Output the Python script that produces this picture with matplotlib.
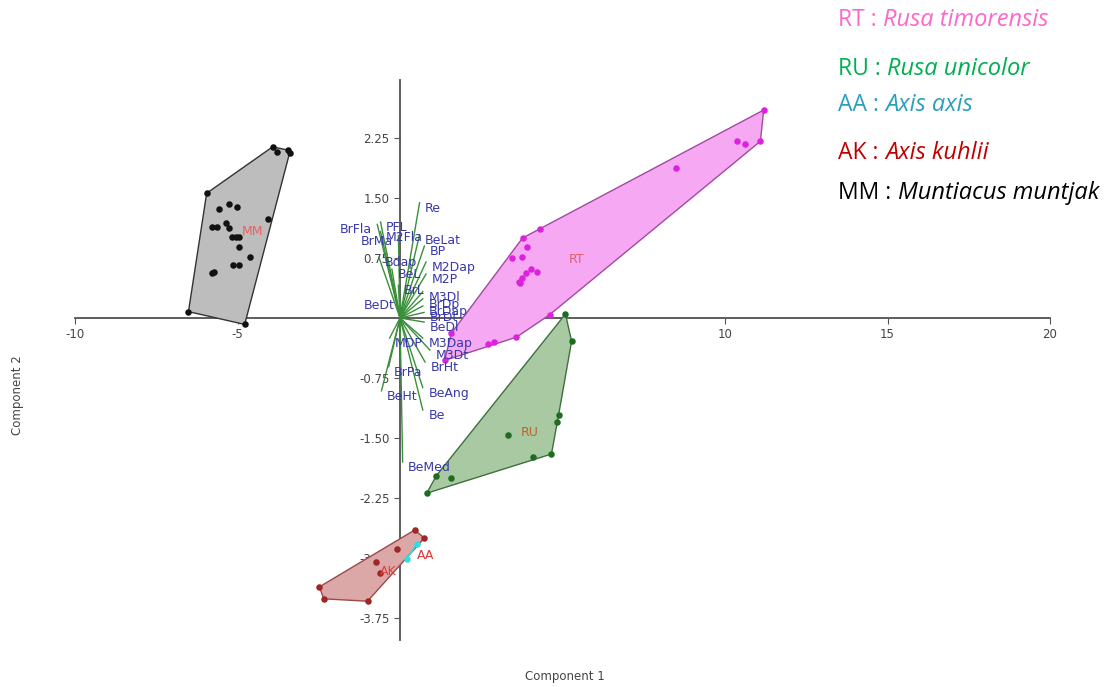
import numpy as np
import matplotlib.pyplot as plt
from matplotlib.ticker import FormatStrFormatter

plt.rcParams['axes.unicode_minus'] = False

# PCA scores per group (component 1, component 2)
mm_x = [-3.92, -3.80, -3.46, -3.40, -5.95, -5.58, -5.25, -5.03, -4.05, -5.80, -5.62, -5.34,
        -5.25, -5.18, -5.06, -4.97, -4.97, -4.63, -5.15, -4.97, -5.80, -5.71, -6.51, -4.78]
mm_y = [2.14, 2.08, 2.10, 2.06, 1.56, 1.36, 1.43, 1.39, 1.24, 1.14, 1.14, 1.19,
        1.13, 1.01, 1.01, 1.01, 0.89, 0.76, 0.66, 0.66, 0.56, 0.58, 0.08, -0.08]

rt_x = [11.19, 10.38, 10.63, 11.09, 8.48, 4.32, 3.77, 3.92, 3.46, 3.74, 4.02,
        4.23, 3.89, 3.74, 3.65, 3.68, 4.60, 3.58, 2.88, 2.72, 1.58, 1.37]
rt_y = [2.60, 2.21, 2.18, 2.21, 1.88, 1.11, 1.00, 0.89, 0.75, 0.76, 0.61,
        0.57, 0.56, 0.50, 0.45, 0.44, 0.04, -0.24, -0.30, -0.33, -0.19, -0.53]

ru_x = [5.09, 5.28, 4.88, 4.82, 4.66, 4.08, 3.31, 1.58, 1.12, 0.82]
ru_y = [0.05, -0.29, -1.21, -1.30, -1.70, -1.74, -1.46, -2.00, -1.97, -2.19]

ak_x = [0.45, 0.75, -0.08, -0.75, -0.63, -2.48, -2.35, -1.00]
ak_y = [-2.65, -2.75, -2.89, -3.05, -3.19, -3.36, -3.51, -3.54]

aa_x = [0.51, 0.20]
aa_y = [-2.83, -3.01]

# loadings (biplot vectors)
var_names = ['Re', 'BrFla', 'PFL', 'BrMa', 'M2Fla', 'BeLat', 'BP', 'Bdap', 'BeL', 'M2Dap',
             'M2P', 'BrL', 'BeDt', 'M3Dl', 'BrDp', 'BrDap', 'BrDt', 'BeDl', 'MDP', 'M3Dap',
             'M3Dt', 'BrHt', 'BrPa', 'BeHt', 'BeAng', 'Be', 'BeMed']
load_x = [0.60, -0.70, -0.60, -0.05, -0.60, 0.60, 0.75, -0.65, -0.25, 0.80,
          0.80, -0.05, 0.00, 0.70, 0.70, 0.70, 0.74, 0.74, -0.32, 0.70,
          0.92, 0.77, -0.35, -0.57, 0.70, 0.70, 0.08]
load_y = [1.44, 1.17, 1.20, 1.03, 1.08, 1.04, 0.90, 0.76, 0.61, 0.70,
          0.55, 0.41, 0.22, 0.33, 0.24, 0.15, 0.07, -0.05, -0.25, -0.25,
          -0.40, -0.55, -0.61, -0.91, -0.87, -1.15, -1.80]
label_right = ['BrFla', 'BrMa', 'BeDt']

groups = [
    ('MM', mm_x, mm_y, '#111111', '#bdbdbd', '#333333'),
    ('RT', rt_x, rt_y, '#dd22dd', '#f7a8f3', '#a04aa0'),
    ('RU', ru_x, ru_y, '#1f6b1f', '#a9c9a2', '#3f6f3f'),
    ('AK', ak_x, ak_y, '#a02525', '#dba7a7', '#9a4a4a'),
    ('AA', aa_x, aa_y, '#33dddd', '#33dddd', '#33dddd'),
]
group_label_col = {'MM': '#e86060', 'RT': '#e06070', 'RU': '#c0602a', 'AK': '#e04040', 'AA': '#d83838'}

legend_items = [
    ('RT :', 'Rusa timorensis', '#ff66cc'),
    ('RU :', 'Rusa unicolor', '#00b050'),
    ('AA :', 'Axis axis', '#2b9fbf'),
    ('AK :', 'Axis kuhlii', '#c00000'),
    ('MM :', 'Muntiacus muntjak', '#000000'),
]


def hull(xs, ys):
    pts = sorted(set(zip(xs, ys)))
    if len(pts) < 3:
        return pts

    def cross(o, a, b):
        return (a[0] - o[0]) * (b[1] - o[1]) - (a[1] - o[1]) * (b[0] - o[0])
    lower, upper = [], []
    for p in pts:
        while len(lower) >= 2 and cross(lower[-2], lower[-1], p) <= 0:
            lower.pop()
        lower.append(p)
    for p in reversed(pts):
        while len(upper) >= 2 and cross(upper[-2], upper[-1], p) <= 0:
            upper.pop()
        upper.append(p)
    return lower[:-1] + upper[:-1]


fig = plt.figure(figsize=(11.2, 6.87), dpi=100)
ax = fig.add_axes([0.067, 0.0678, 0.8705, 0.8163])
ax.set_xlim(-10, 20)
ax.set_ylim(-4.03, 2.98)

for name, gx, gy, pc, fc, ec in groups:
    h = hull(gx, gy)
    if len(h) >= 3:
        ax.fill([p[0] for p in h], [p[1] for p in h], facecolor=fc, edgecolor=ec, lw=1.0, zorder=2)
    else:
        ax.plot([p[0] for p in h], [p[1] for p in h], color=ec, lw=1.2, zorder=2)
    ax.scatter(gx, gy, s=22, color=pc, zorder=4, linewidths=0)
    ax.text(np.mean(gx) + 0.15, np.mean(gy) - 0.05, name, color=group_label_col[name],
            fontsize=9, ha='left', va='center', zorder=6)

for nm, lx, ly in zip(var_names, load_x, load_y):
    ax.plot([0, lx], [0, ly], color='#3a8f3a', lw=1.0, zorder=3)
    if nm in label_right:
        ax.annotate(nm, (lx, ly), xytext=(-4, -4), textcoords='offset points',
                    ha='right', va='center', color='#3838a8', fontsize=9, zorder=5)
    else:
        ax.annotate(nm, (lx, ly), xytext=(4, -4), textcoords='offset points',
                    ha='left', va='center', color='#3838a8', fontsize=9, zorder=5)

for side in ['top', 'right']:
    ax.spines[side].set_visible(False)
ax.spines['left'].set_position(('data', 0))
ax.spines['bottom'].set_position(('data', 0))
for side in ['left', 'bottom']:
    ax.spines[side].set_color('#505050')
    ax.spines[side].set_linewidth(1.3)
    ax.spines[side].set_zorder(1)

ax.set_xticks([-10, -5, 5, 10, 15, 20])
ax.set_yticks([-3.75, -3.0, -2.25, -1.5, -0.75, 0.75, 1.5, 2.25])
ax.yaxis.set_major_formatter(FormatStrFormatter('%.2f'))
ax.tick_params(colors='#555555', labelcolor='#444444', labelsize=8.5, length=4)

fig.text(0.504, 0.015, 'Component 1', ha='center', va='center', fontsize=8.5, color='#444444')
fig.text(0.016, 0.425, 'Component 2', ha='center', va='center', rotation=90, fontsize=8.5,
         color='#444444')

# species key, top right
ys = [20, 69, 105, 153, 193]
for (pre, sp, col), ypx in zip(legend_items, ys):
    t = fig.text(0.748, 1 - ypx / 687, pre, color=col, fontsize=16.5, family='Open Sans',
                 ha='left', va='center')
    ax.annotate(sp, xy=(1, 0), xycoords=t, xytext=(5, 0), textcoords='offset points',
                color=col, fontsize=17, family='Open Sans', style='italic',
                ha='left', va='bottom', annotation_clip=False)

fig.savefig('out.png', dpi=100)
